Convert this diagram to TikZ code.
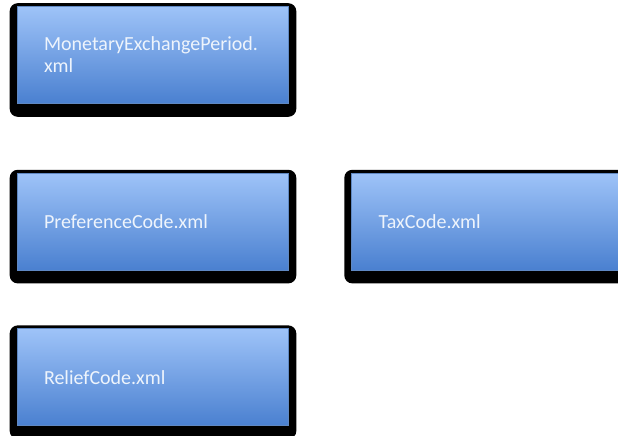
\documentclass[tikz,border=0pt]{standalone}
\usepackage{fontspec}
\setmainfont{Carlito}
\usetikzlibrary{positioning, calc, backgrounds}
\definecolor{boxtop}{HTML}{9EC3F8}
\definecolor{boxbot}{HTML}{4A80D0}
\definecolor{boxline}{HTML}{5F88C2}
\definecolor{boxtext}{HTML}{EEF4FC}

\begin{document}
\begin{tikzpicture}[x=1pt,y=-1pt,node distance=69pt,
            xmlfile/.style={rectangle,top color=boxtop,bottom color=boxbot,draw=boxline,line width=0.6pt,
              minimum width=271pt,minimum height=97pt,text width=217pt,inner xsep=27pt,inner ysep=0pt,
              align=left,text=boxtext,font=\fontsize{20}{22}\selectfont},
            boxshadow/.style={fill=black,rounded corners=8pt}]
            \useasboundingbox (0,0) rectangle (618,436);
            \node[xmlfile]   (mep)   at (152.5,55)        {MonetaryExchangePeriod.\\xml};
            \node[xmlfile]   (pref)   [below=69pt of mep]  {PreferenceCode.xml};
            \node[xmlfile]   (relief) [below=58pt of pref] {ReliefCode.xml};
            \node[xmlfile]   (tax)    [right=63pt of pref] {TaxCode.xml};

            \begin{scope}[on background layer]
            \fill[white] (0,0) rectangle (618,436);
            \foreach \n in {mep,pref,relief,tax}
              \fill[boxshadow] ($(\n.north west)+(-7,-3)$) rectangle ($(\n.south east)+(8,13)$);
            \end{scope}
            \end{tikzpicture}
\end{document}
